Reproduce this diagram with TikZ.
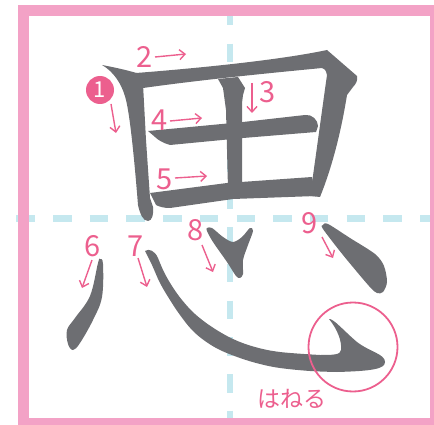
\documentclass[tikz,border=0pt]{standalone}
\usepackage{fontspec}
\newfontfamily\jp{Noto Sans CJK JP}
\usetikzlibrary{arrows.meta}
\definecolor{ink}{HTML}{6D6E72}
\definecolor{accent}{HTML}{EC5F8E}
\definecolor{framepink}{HTML}{F3A2C6}
\definecolor{guide}{HTML}{C5E8EF}
\begin{document}
\begin{tikzpicture}[x=1pt,y=-1pt,
  inkfill/.style={fill=ink},
  num/.style={text=accent, font=\jp\fontsize{29}{29}\selectfont, inner sep=0pt},
  arr/.style={draw=accent, line width=1.4pt, -{Straight Barb[length=5.5pt,width=10pt]}},
  guideline/.style={draw=guide, line width=6.5pt, dash pattern=on 18.5pt off 18.2pt}]
\useasboundingbox (0,0) rectangle (434,425);
\clip (0,0) rectangle (434,425);
% guides
\draw[guideline] (230,7) -- (230,440);
\draw[guideline] (16.3,218.5) -- (450,218.5);
% frame
\draw[framepink, line width=11pt] (23.5,10.5) rectangle (435.5,423.5);
% stroke 1
\fill[inkfill] (102,65) .. controls (118,68) and (130,71) .. (140,74) -- (143,84) -- (146,140) -- (150,198) -- (153,207) .. controls (154,214) and (152,221) .. (148,221) .. controls (143,221) and (140,214) .. (138,205) .. controls (136,180) and (131,120) .. (126,100) .. controls (122,84) and (114,72) .. (102,65) -- cycle;
% stroke 2
\fill[inkfill] (136,73) .. controls (200,68) and (280,60) .. (327,50) -- (357,76) .. controls (358,80) and (356,84) .. (353,87) -- (347,95) .. controls (343,120) and (335,160) .. (320,197) -- (310,196) .. controls (314,170) and (322,110) .. (327,75) .. controls (326,70) and (324,68) .. (322,68) .. controls (260,74) and (200,80) .. (143,88) -- cycle;
% stroke 3
\fill[inkfill] (218,79) -- (238,77) -- (245,88) -- (243,95) -- (242,103) -- (242,186) -- (228,189) -- (226,110) -- (223,88) -- cycle;
% stroke 4
\fill[inkfill] (148,131) -- (243,122) -- (305,115) .. controls (312,114) and (318,120) .. (318,126) -- (316,132) -- (243,138) -- (170,145) .. controls (163,143) and (158,140) .. (155,137) -- cycle;
% stroke 5
\fill[inkfill] (150,193) -- (227,183) -- (312,177) -- (316,196) -- (233,199) -- (170,208) .. controls (164,208) and (160,207) .. (156,205) -- cycle;
% stroke 6
\fill[inkfill] plot[smooth cycle, tension=0.6] coordinates {(100,259) (103,264) (102,297) (93,320) (80,343) (73,350) (68,344) (67,330) (75,318) (90,296) (98,263)};
% stroke 7
\fill[inkfill] plot[smooth, tension=0.6] coordinates {(145,251) (152,265) (160,283) (170,300) (180,315) (192,330) (205,341) (220,350) (240,358) (260,364) (280,368) (310,371) (337,372)}
  .. controls (372,371) and (385,369) .. (385,362) .. controls (385,354) and (370,352) .. (357,342) .. controls (345,332) and (333,318) .. (329,319) .. controls (338,330) and (342,342) .. (341,350) .. controls (341,355) and (332,355) .. (320,355)
  -- plot[smooth, tension=0.6] coordinates {(320,355) (280,352) (255,347) (233,339) (212,327) (195,314) (182,300) (172,286) (164,272) (158,258)}
  .. controls (155,251) and (149,248) .. (145,251) -- cycle;
% stroke 8
\fill[inkfill] plot[smooth cycle, tension=0.5] coordinates {(207,228) (212,228) (223,237) (233,242) (242,237) (250,228) (253,231) (248,245) (243,260) (243,274) (240,278) (236,276) (227,262) (213,242) (207,231)};
% stroke 9
\fill[inkfill] plot[smooth cycle, tension=0.5] coordinates {(323,225) (328,224) (350,238) (375,254) (384,266) (387,282) (383,292) (377,293) (369,286) (343,255) (323,229)};
% labels
\node[circle, fill=accent, minimum size=28pt, inner sep=0pt, text=white, font=\jp\fontsize{22}{22}\selectfont] (n1) at (100,90) {1};
\coordinate (a1s) at (111,104); \coordinate (a1e) at (116,133);
\draw[arr] (a1s) -- (a1e);
\node[num] (n2) at (145,57) {2};
\coordinate (a2s) at (155,57); \coordinate (a2e) at (186,54);
\draw[arr] (a2s) -- (a2e);
\node[num] (n3) at (268,92) {3};
\coordinate (a3s) at (252,83); \coordinate (a3e) at (252,113);
\draw[arr] (a3s) -- (a3e);
\node[num] (n4) at (160,120) {4};
\coordinate (a4s) at (170,121); \coordinate (a4e) at (202,118);
\draw[arr] (a4s) -- (a4e);
\node[num] (n5) at (165,179) {5};
\coordinate (a5s) at (175,178); \coordinate (a5e) at (207,176);
\draw[arr] (a5s) -- (a5e);
\node[num] (n6) at (93,246) {6};
\coordinate (a6s) at (92,260); \coordinate (a6e) at (82,288);
\draw[arr] (a6s) -- (a6e);
\node[num] (n7) at (136,246) {7};
\coordinate (a7s) at (138,258); \coordinate (a7e) at (147,287);
\draw[arr] (a7s) -- (a7e);
\node[num] (n8) at (196,230) {8};
\coordinate (a8s) at (202,245); \coordinate (a8e) at (213,272);
\draw[arr] (a8s) -- (a8e);
\node[num] (n9) at (310,223) {9};
\coordinate (a9s) at (322,237); \coordinate (a9e) at (333,258);
\draw[arr] (a9s) -- (a9e);
\node[draw=accent, line width=1.8pt, circle, minimum size=89pt, inner sep=0pt] (hookmark) at (353,347) {};
\node[text=accent, font=\jp\fontsize{23}{23}\selectfont, inner sep=0pt] (hane) at (292,399) {はねる};
\end{tikzpicture}
\end{document}
